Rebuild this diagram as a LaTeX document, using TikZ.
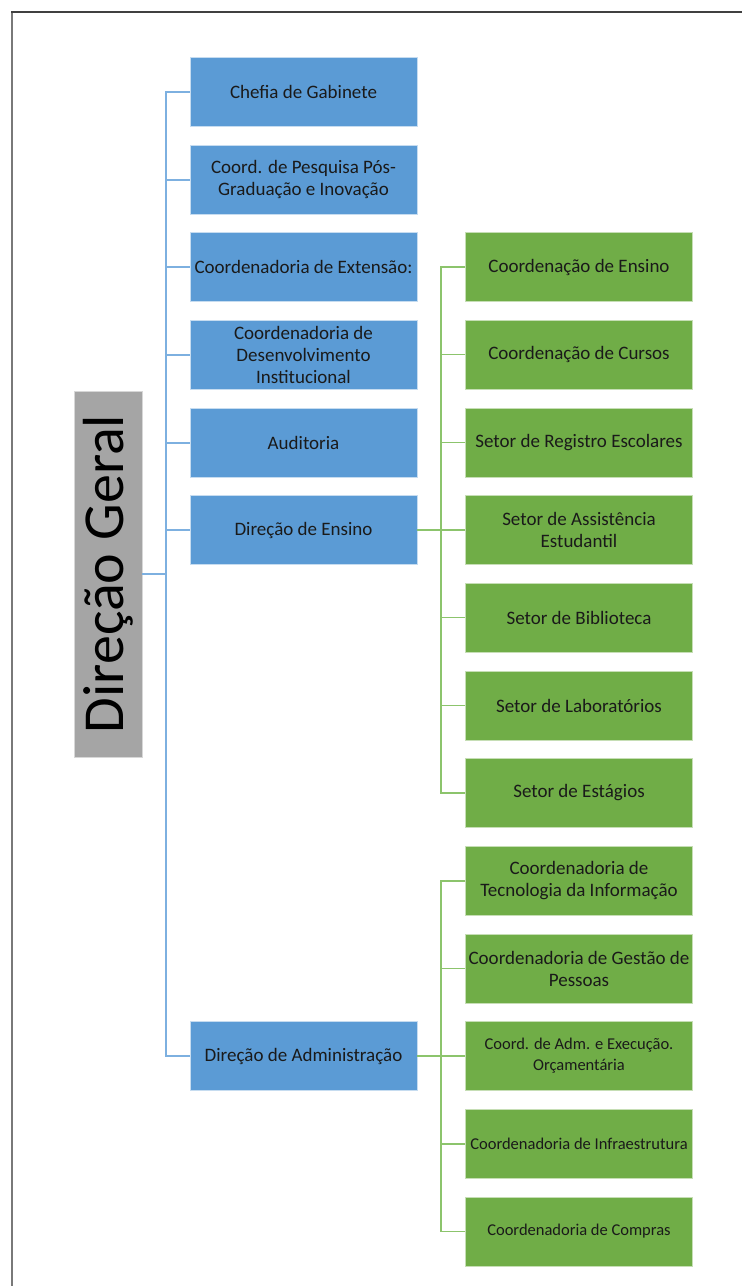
\documentclass[tikz,border=0pt]{standalone}
\usepackage{fontspec}
\setmainfont{Carlito}
\definecolor{unitblue}{HTML}{5B9BD5}
\definecolor{unitgreen}{HTML}{70AD47}
\definecolor{headgray}{HTML}{A5A5A5}
\definecolor{linkblue}{HTML}{7DB0E0}
\definecolor{linkgreen}{HTML}{8CC46C}
\definecolor{txt}{HTML}{1A1A1A}
\tikzset{
  unit/.style={rectangle, minimum width=227pt, minimum height=69pt, inner sep=1pt,
    align=center, text=txt, font=\fontsize{19}{22}\selectfont, line width=0.8pt},
  bluebox/.style={unit, fill=unitblue, draw=unitblue!35!white},
  greenbox/.style={unit, fill=unitgreen, draw=unitgreen!40!white},
  smalltxt/.style={font=\fontsize{16.5}{21}\selectfont},
  bline/.style={draw=linkblue, line width=2pt},
  gline/.style={draw=linkgreen, line width=1.6pt},
}
\begin{document}
\begin{tikzpicture}[x=1pt, y=-1pt]
\useasboundingbox (0,0) rectangle (742,1286);
\fill[white] (0,0) rectangle (742,1286);
% page frame
\draw[draw=gray!95!black, line width=2pt] (12,11) -- (12,1286);
\draw[draw=black!75, line width=1.6pt] (11,12) -- (742,12);

% head of the chart
\node[rectangle, fill=headgray, draw=headgray!45!white, line width=0.8pt, rotate=90,
  minimum width=366pt, minimum height=68pt, inner sep=0pt, text=black,
  font=\fontsize{58}{60}\selectfont] (dg) at (108,574) {Direção Geral};

% first level
\node[bluebox] (b1) at (303.5,91.5) {Chefia de Gabinete};
\node[bluebox] (b2) at (303.5,179.5) {Coord. de Pesquisa Pós-\\Graduação e Inovação};
\node[bluebox] (b3) at (303.5,267) {Coordenadoria de Extensão:};
\node[bluebox] (b4) at (303.5,354.5) {Coordenadoria de\\Desenvolvimento\\Institucional};
\node[bluebox] (b5) at (303.5,442.5) {Auditoria};
\node[bluebox] (b6) at (303.5,530) {Direção de Ensino};
\node[bluebox] (b7) at (303.5,1056) {Direção de Administração};

% units under Direção de Ensino
\node[greenbox] (e1) at (579,267) {Coordenação de Ensino};
\node[greenbox] (e2) at (579,354.5) {Coordenação de Cursos};
\node[greenbox] (e3) at (579,442.5) {Setor de Registro Escolares};
\node[greenbox] (e4) at (579,530) {Setor de Assistência\\Estudantil};
\node[greenbox] (e5) at (579,617.5) {Setor de Biblioteca};
\node[greenbox] (e6) at (579,705.5) {Setor de Laboratórios};
\node[greenbox] (e7) at (579,793) {Setor de Estágios};

% units under Direção de Administração
\node[greenbox] (a1) at (579,881) {Coordenadoria de\\Tecnologia da Informação};
\node[greenbox] (a2) at (579,968.5) {Coordenadoria de Gestão de\\Pessoas};
\node[greenbox, smalltxt] (a3) at (579,1056) {Coord. de Adm. e Execução.\\Orçamentária};
\node[greenbox, smalltxt] (a4) at (579,1144) {Coordenadoria de Infraestrutura};
\node[greenbox, smalltxt] (a5) at (579,1231.5) {Coordenadoria de Compras};

% blue connectors
\draw[bline] (b1.west) -- ++(-24,0) coordinate (bt) |- (b7.west);
\draw[bline] (dg.south) -- (dg.south -| bt);
\foreach \n in {b2,b3,b4,b5,b6} \draw[bline] (\n.west) -- (\n.west -| bt);

% green connectors
\draw[gline] (e1.west) -- ++(-24,0) coordinate (et) |- (e7.west);
\foreach \n in {e2,e3,e5,e6} \draw[gline] (\n.west) -- (\n.west -| et);
\draw[gline] (b6.east) -- (e4.west);
\draw[gline] (a1.west) -- ++(-24,0) coordinate (at) |- (a5.west);
\foreach \n in {a2,a4} \draw[gline] (\n.west) -- (\n.west -| at);
\draw[gline] (b7.east) -- (a3.west);
\end{tikzpicture}
\end{document}
